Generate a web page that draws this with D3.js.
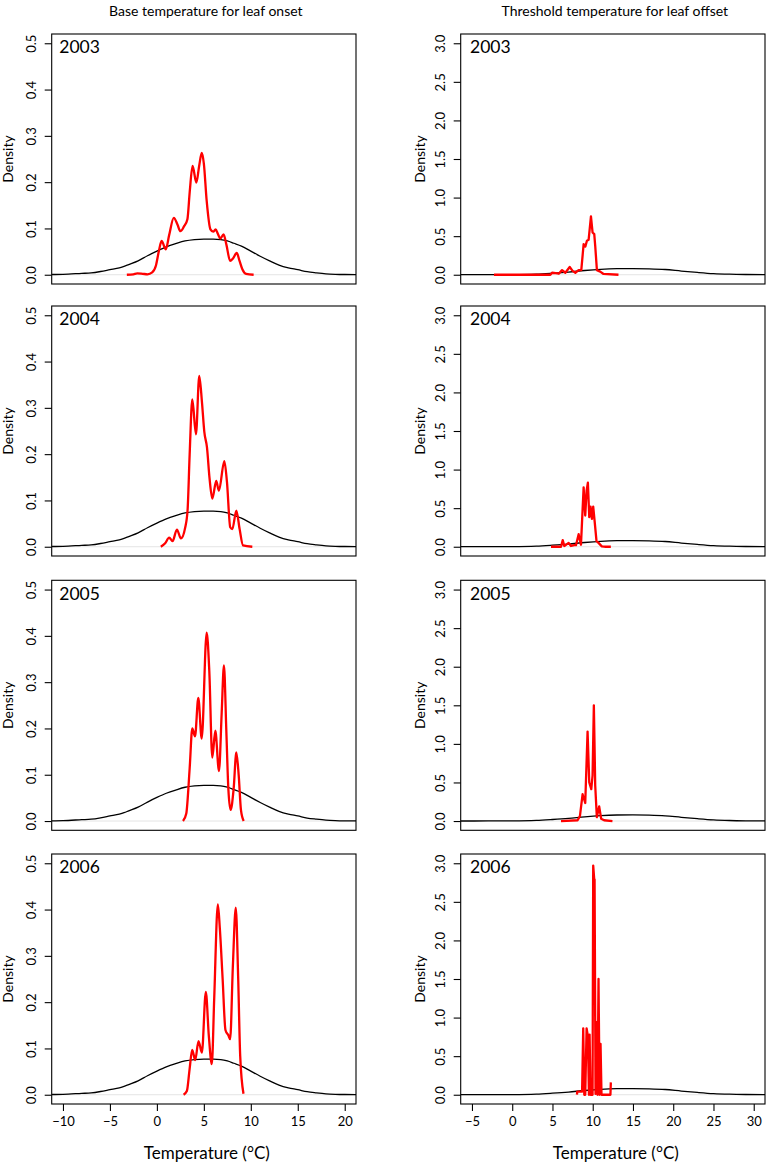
<!DOCTYPE html>
<html><head><meta charset="utf-8">
<script src="https://cdn.jsdelivr.net/npm/d3@7"></script>
<style>body{margin:0;background:#fff}svg{display:block}</style>
</head><body>
<svg id="c" width="772" height="1167"></svg>
<script>
// ---------------- data ----------------
const years = ["2003", "2004", "2005", "2006"];
const columnTitles = ["Base temperature for leaf onset", "Threshold temperature for leaf offset"];
const xAxisTitle = "Temperature (°C)";
const yAxisTitle = "Density";

const onsetTicksX = [-10, -5, 0, 5, 10, 15, 20];
const offsetTicksX = [-5, 0, 5, 10, 15, 20, 25, 30];
const onsetTicksY = [0, 0.1, 0.2, 0.3, 0.4, 0.5];
const offsetTicksY = [0, 0.5, 1.0, 1.5, 2.0, 2.5, 3.0];
const onsetLimX = [-10, 20];
const offsetLimX = [-5, 30];
const onsetLimY = [0, 0.5];
const offsetLimY = [0, 3];

// prior densities (black)
const priorOnset = [[-11.2,0.0005],[-10,0.001],[-8,0.003],[-7,0.004],[-6,0.007],[-5,0.011],[-4,0.015],[-3.5,0.018],[-3,0.022],[-2,0.03],[-1,0.041],[0,0.051],[1,0.06],[2,0.067],[3,0.073],[4,0.076],[5,0.077],[6,0.077],[6.8,0.076],[7.5,0.073],[8.2,0.068],[9,0.062],[10,0.051],[11,0.04],[12,0.03],[13,0.021],[14,0.015],[15,0.011],[16,0.0065],[17,0.004],[18,0.002],[19,0.001],[20,0.0005],[21.2,0.0003]];
const priorOffset = [[-6.4,0.0005],[-3,0.001],[0,0.002],[3,0.008],[5,0.02],[7,0.035],[9,0.055],[11,0.07],[13,0.078],[15,0.08],[17,0.077],[19,0.068],[21,0.048],[23,0.03],[25,0.015],[27,0.007],[29,0.003],[31.4,0.001]];

// posterior densities (red), base temperature for leaf onset
const onset2003 = [[-3.2,0],[-2.5,0.001],[-2.1,0.003],[-1.5,0.002],[-1.0,0.001],[-0.5,0.005],[-0.1,0.02],[0.2,0.05],[0.5,0.073],[0.95,0.055],[1.3,0.085],[1.8,0.123],[2.2,0.108],[2.5,0.094],[2.9,0.105],[3.25,0.12],[3.5,0.18],[3.8,0.235],[4.2,0.199],[4.5,0.235],[4.78,0.263],[5.0,0.24],[5.3,0.16],[5.7,0.098],[6.0,0.093],[6.25,0.098],[6.5,0.088],[6.75,0.078],[7.1,0.087],[7.4,0.065],[7.8,0.03],[8.1,0.035],[8.5,0.047],[8.8,0.03],[9.1,0.012],[9.5,0.002],[10.3,0]];
const onset2004 = [[0.42,0],[0.88,0.0075],[1.31,0.0195],[1.67,0.012],[2.13,0.037],[2.56,0.018],[3.02,0.042],[3.27,0.08],[3.49,0.2],[3.77,0.318],[4.16,0.243],[4.51,0.369],[4.8,0.312],[5.05,0.248],[5.33,0.215],[5.61,0.147],[5.9,0.104],[6.32,0.142],[6.6,0.121],[7.18,0.185],[7.46,0.14],[7.81,0.042],[8.03,0.038],[8.46,0.078],[8.81,0.038],[9.17,0.003],[10.16,0]];
const onset2005 = [[2.78,0],[3.13,0.0165],[3.49,0.114],[3.77,0.2],[4.06,0.183],[4.41,0.266],[4.77,0.178],[5.3,0.407],[5.58,0.324],[5.9,0.137],[6.22,0.195],[6.61,0.108],[6.9,0.234],[7.14,0.336],[7.39,0.197],[7.61,0.069],[7.85,0.024],[8.17,0.069],[8.46,0.148],[8.71,0.099],[8.95,0.024],[9.24,0]];
const onset2006 = [[2.84,0],[3.19,0.008],[3.48,0.055],[3.76,0.097],[4.08,0.075],[4.43,0.116],[4.79,0.091],[5.21,0.222],[5.53,0.127],[5.85,0.066],[6.1,0.206],[6.49,0.411],[6.7,0.36],[7.0,0.25],[7.3,0.14],[7.62,0.128],[7.8,0.12],[8.09,0.278],[8.4,0.404],[8.65,0.256],[8.87,0.084],[9.22,0.002]];

// posterior densities (red), threshold temperature for leaf offset
const offset2003 = [[-2.27,0],[4.74,0],[4.95,0.026],[5.4,0.02],[5.78,0.013],[6.19,0.06],[6.6,0.026],[7.14,0.1],[7.5,0.05],[7.84,0.026],[8.25,0.06],[8.58,0.06],[8.87,0.396],[9.08,0.365],[9.28,0.44],[9.49,0.452],[9.78,0.757],[9.98,0.548],[10.19,0.526],[10.31,0.374],[10.52,0.06],[10.93,0.04],[11.34,0.01],[13.2,0]];
const offset2004 = [[4.82,0],[6.06,0],[6.27,0.085],[6.47,0.01],[7.01,0.05],[7.3,0.01],[7.71,0.02],[7.92,0.02],[8.25,0.162],[8.54,0.027],[8.87,0.77],[9.07,0.405],[9.24,0.725],[9.4,0.83],[9.57,0.383],[9.73,0.52],[9.9,0.36],[10.06,0.52],[10.23,0.338],[10.47,0.072],[10.72,0.05],[11.13,0.005],[11.63,0],[12.25,0]];
const offset2005 = [[6.06,0],[8.12,0.01],[8.41,0.063],[8.74,0.347],[9.07,0.234],[9.36,1.16],[9.57,0.5],[9.82,0.414],[9.98,0.59],[10.14,1.5],[10.31,0.46],[10.51,0.05],[10.8,0.19],[11.05,0.03],[11.42,0.01],[12.45,0]];
const offset2006 = [[8.04,0],[8.08,0.04],[8.68,0.04],[8.82,0.86],[8.95,0],[9.07,0],[9.24,0.86],[9.4,0.76],[9.53,0],[9.61,0.78],[9.73,0],[9.98,0],[10.06,2.97],[10.18,2.8],[10.23,2.79],[10.35,0.01],[10.47,0.94],[10.6,0],[10.72,1.5],[10.85,0],[10.97,0.66],[11.09,0],[12.2,0],[12.25,0.16]];

const onsetSeries = [onset2003, onset2004, onset2005, onset2006];
const offsetSeries = [offset2003, offset2004, offset2005, offset2006];

// ---------------- layout ----------------
const FONT = "Lato, 'Open Sans', sans-serif";
const svg = d3.select("#c");
const boxW = 304.3, boxH = 250;
const colX = [51.7, 460.7];
const rowY = [34, 306, 580.3, 854];

function expand(lim) { const d = (lim[1] - lim[0]) * 0.04; return [lim[0] - d, lim[1] + d]; }

const cols = [
  { limX: onsetLimX, limY: onsetLimY, ticksX: onsetTicksX, ticksY: onsetTicksY, prior: priorOnset, series: onsetSeries, curve: d3.curveMonotoneX, fmt: d3.format(".1f") },
  { limX: offsetLimX, limY: offsetLimY, ticksX: offsetTicksX, ticksY: offsetTicksY, prior: priorOffset, series: offsetSeries, curve: d3.curveLinear, fmt: d3.format(".1f") }
];

cols.forEach((col, ci) => {
  const x0 = colX[ci];
  const x = d3.scaleLinear().domain(expand(col.limX)).range([x0, x0 + boxW]);

  // column title
  svg.append("text").attr("x", x0 + boxW / 2 + 2).attr("y", 15.5)
    .attr("text-anchor", "middle").attr("font-family", FONT).attr("font-size", 14)
    .attr("fill", "#000").text(columnTitles[ci]);

  years.forEach((yr, ri) => {
    const top = rowY[ri];
    const y = d3.scaleLinear().domain(expand(col.limY)).range([top + boxH, top]);
    const g = svg.append("g");
    const clipId = `clip-${ci}-${ri}`;
    svg.append("clipPath").attr("id", clipId).append("rect")
      .attr("x", x0).attr("y", top).attr("width", boxW).attr("height", boxH);
    const plot = g.append("g").attr("clip-path", `url(#${clipId})`);

    // zero line
    plot.append("line").attr("x1", x0).attr("x2", x0 + boxW)
      .attr("y1", y(0)).attr("y2", y(0)).attr("stroke", "#e4e4e4").attr("stroke-width", 1);

    const line = d3.line().x(d => x(d[0])).y(d => y(d[1]));
    // prior (black)
    plot.append("path").datum(col.prior)
      .attr("d", line.curve(d3.curveMonotoneX)(col.prior))
      .attr("fill", "none").attr("stroke", "#000").attr("stroke-width", 1.3);
    // posterior (red)
    const redLine = d3.line().x(d => x(d[0])).y(d => y(d[1])).curve(col.curve);
    plot.append("path").datum(col.series[ri])
      .attr("d", redLine)
      .attr("fill", "none").attr("stroke", "#ff0000").attr("stroke-width", 2.3)
      .attr("stroke-linejoin", "round");

    // box
    g.append("rect").attr("x", x0).attr("y", top).attr("width", boxW).attr("height", boxH)
      .attr("fill", "none").attr("stroke", "#000").attr("stroke-width", 1.1);

    // y axis
    const ya = g.append("g").attr("transform", `translate(${x0},0)`)
      .call(d3.axisLeft(y).tickValues(col.ticksY).tickSize(7).tickFormat(col.fmt));
    ya.select(".domain").remove();
    ya.selectAll(".tick line").attr("stroke", "#000").attr("stroke-width", 1.1);
    ya.selectAll(".tick text")
      .attr("x", null).attr("dy", null)
      .attr("transform", "translate(-15.5,0) rotate(-90)")
      .attr("text-anchor", "middle")
      .attr("font-family", FONT).attr("font-size", 13).attr("fill", "#000");

    // y title
    const ycen = top + boxH / 2;
    const tx = x0 - (ci === 0 ? 38.5 : 36);
    g.append("text").attr("transform", `translate(${tx},${ycen}) rotate(-90)`)
      .attr("text-anchor", "middle").attr("font-family", FONT).attr("font-size", 14)
      .attr("fill", "#000").text(yAxisTitle);

    // year label
    g.append("text").attr("x", x0 + (ci === 0 ? 7.6 : 9.3)).attr("y", top + 19.3)
      .attr("font-family", FONT).attr("font-size", 17.5).attr("fill", "#000").text(yr);

    // x axis on last row
    if (ri === years.length - 1) {
      const xa = g.append("g").attr("transform", `translate(0,${top + boxH})`)
        .call(d3.axisBottom(x).tickValues(col.ticksX).tickSize(7).tickFormat(d3.format("d")));
      xa.select(".domain").remove();
      xa.selectAll(".tick line").attr("stroke", "#000").attr("stroke-width", 1.1);
      xa.selectAll(".tick text").attr("y", 12.5).attr("dy", "0.71em")
        .attr("font-family", FONT).attr("font-size", 13).attr("fill", "#000");
      g.append("text").attr("x", x0 + boxW / 2 + 3).attr("y", top + boxH + 55)
        .attr("text-anchor", "middle").attr("font-family", FONT).attr("font-size", 17)
        .attr("fill", "#000").text(xAxisTitle);
    }
  });
});
</script>
</body></html>
